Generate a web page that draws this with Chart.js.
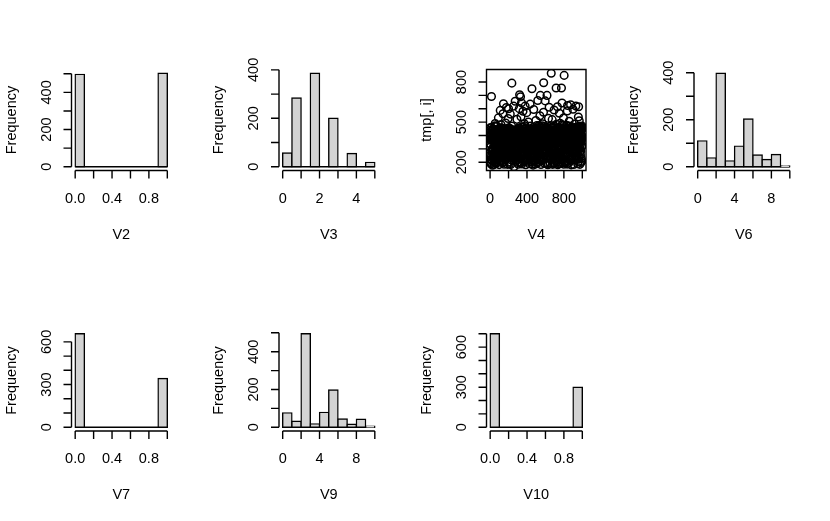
<!DOCTYPE html>
<html>
<head>
<meta charset="utf-8">
<script src="https://cdn.jsdelivr.net/npm/chart.js@4.4.1/dist/chart.umd.min.js"></script>
<style>
  html, body { margin: 0; padding: 0; background: #fff; }
  #fig { position: relative; width: 830px; height: 521px; overflow: hidden; background: #fff; }
  #fig canvas { position: absolute; }
</style>
</head>
<body>
<div id="fig"></div>
<script>
// ---- data ----
const v2Breaks = [0, 0.1, 0.2, 0.3, 0.4, 0.5, 0.6, 0.7, 0.8, 0.9, 1.0];
const v2Counts = [497, 0, 0, 0, 0, 0, 0, 0, 0, 503];

const v3Breaks = [0, 0.5, 1, 1.5, 2, 2.5, 3, 3.5, 4, 4.5, 5];
const v3Counts = [57, 284, 0, 386, 0, 200, 0, 55, 0, 18];

const v6Breaks = [0, 1, 2, 3, 4, 5, 6, 7, 8, 9, 10];
const v6Counts = [110, 38, 398, 25, 88, 203, 50, 31, 52, 3];

const v7Breaks = [0, 0.1, 0.2, 0.3, 0.4, 0.5, 0.6, 0.7, 0.8, 0.9, 1.0];
const v7Counts = [657, 0, 0, 0, 0, 0, 0, 0, 0, 343];

const v9Breaks = [0, 1, 2, 3, 4, 5, 6, 7, 8, 9, 10];
const v9Counts = [76, 32, 495, 18, 79, 197, 44, 16, 42, 5];

const v10Breaks = [0, 0.1, 0.2, 0.3, 0.4, 0.5, 0.6, 0.7, 0.8, 0.9, 1.0];
const v10Counts = [700, 0, 0, 0, 0, 0, 0, 0, 0, 300];

// V4 values in row order (index 1..1000)
const v4Values = [
  312, 387, 198, 441, 460, 254, 333, 405, 189, 376, 402, 221, 364, 418, 692, 247, 295, 459, 283, 430,
  368, 213, 384, 441, 296, 177, 422, 258, 437, 304, 375, 449, 226, 391, 286, 412, 245, 398, 363, 219,
  401, 254, 183, 376, 362, 428, 247, 419, 309, 337, 472, 193, 386, 240, 490, 356, 318, 201, 467, 374,
  335, 289, 416, 218, 362, 407, 191, 444, 251, 329, 383, 468, 206, 371, 426, 244, 387, 295, 358, 438,
  379, 224, 436, 261, 297, 410, 348, 302, 416, 532, 270, 439, 385, 292, 407, 255, 431, 182, 364, 446,
  327, 415, 251, 390, 286, 372, 436, 268, 425, 588, 214, 399, 343, 457, 205, 377, 232, 418, 480, 359,
  393, 211, 447, 365, 238, 383, 309, 456, 350, 274, 421, 338, 202, 389, 401, 246, 366, 195, 421, 563,
  441, 278, 399, 353, 637, 230, 397, 314, 262, 389, 449, 185, 411, 372, 227, 436, 358, 296, 408, 340,
  385, 220, 367, 443, 299, 378, 327, 255, 493, 410, 281, 337, 448, 268, 396, 304, 610, 431, 379, 253,
  306, 432, 267, 344, 418, 289, 419, 305, 184, 376, 454, 240, 396, 325, 263, 527, 411, 314, 448, 600,
  373, 234, 392, 458, 201, 419, 282, 447, 329, 365, 188, 437, 351, 294, 417, 370, 242, 406, 560, 378,
  426, 301, 345, 183, 449, 369, 218, 412, 387, 236, 423, 399, 262, 470, 354, 792, 431, 290, 404, 345,
  391, 248, 405, 366, 273, 429, 320, 257, 393, 396, 244, 382, 214, 438, 620, 366, 237, 409, 166, 384,
  347, 410, 272, 418, 439, 259, 392, 335, 283, 428, 301, 656, 440, 269, 383, 207, 395, 352, 427, 236,
  416, 303, 388, 249, 361, 426, 279, 389, 342, 264, 521, 433, 297, 411, 376, 408, 245, 418, 361, 198,
  369, 434, 221, 396, 342, 185, 378, 456, 309, 232, 374, 452, 316, 387, 347, 601, 450, 203, 393, 705,
  438, 281, 355, 412, 266, 404, 327, 399, 248, 690, 385, 196, 422, 359, 541, 437, 271, 430, 315, 645,
  398, 324, 463, 340, 187, 376, 417, 243, 462, 308, 389, 254, 371, 430, 302, 397, 582, 265, 428, 346,
  357, 412, 201, 384, 435, 395, 269, 422, 343, 279, 392, 306, 451, 487, 227, 360, 388, 213, 472, 620,
  414, 267, 329, 446, 303, 181, 374, 420, 339, 292, 458, 351, 206, 383, 436, 315, 571, 262, 399, 337,
  380, 441, 373, 219, 361, 425, 295, 397, 253, 444, 330, 384, 340, 408, 268, 501, 445, 310, 224, 386,
  437, 294, 416, 352, 275, 442, 189, 413, 366, 228, 405, 357, 300, 635, 419, 282, 434, 250, 393, 471,
  406, 328, 262, 419, 204, 386, 447, 375, 231, 396, 358, 213, 442, 750, 372, 187, 423, 341, 458, 265,
  350, 439, 287, 422, 302, 178, 363, 396, 444, 315, 209, 378, 595, 435, 356, 268, 400, 291, 426, 324,
  371, 215, 412, 356, 427, 239, 382, 305, 430, 261, 394, 186, 448, 347, 276, 512, 422, 301, 364, 436,
  425, 288, 343, 368, 197, 474, 320, 452, 233, 415, 365, 308, 414, 283, 440, 339, 662, 357, 195, 397,
  393, 249, 404, 327, 362, 230, 381, 473, 218, 401, 474, 345, 286, 391, 316, 459, 227, 352, 370, 548,
  332, 406, 266, 441, 700, 387, 213, 345, 454, 298, 183, 422, 369, 436, 238, 377, 404, 310, 451, 390,
  385, 217, 350, 472, 236, 417, 395, 264, 488, 346, 403, 229, 379, 361, 410, 294, 455, 333, 574, 220,
  795, 358, 293, 411, 337, 467, 244, 402, 325, 412, 276, 190, 448, 353, 297, 432, 659, 371, 318, 407,
  363, 421, 238, 382, 199, 356, 449, 291, 415, 463, 374, 235, 426, 358, 186, 405, 700, 344, 289, 377,
  418, 276, 433, 357, 240, 394, 181, 418, 366, 229, 411, 452, 528, 384, 306, 442, 270, 431, 396, 611,
  399, 336, 270, 388, 413, 283, 426, 247, 402, 193, 364, 441, 328, 417, 255, 380, 402, 363, 241, 474,
  345, 404, 866, 227, 389, 461, 354, 408, 275, 430, 343, 297, 519, 419, 268, 395, 351, 184, 412, 386,
  377, 420, 315, 463, 196, 348, 438, 283, 456, 312, 399, 254, 422, 591, 334, 471, 189, 440, 362, 227,
  430, 292, 356, 366, 444, 209, 407, 372, 401, 248, 381, 416, 338, 265, 397, 755, 390, 236, 414, 484,
  409, 347, 201, 384, 427, 260, 433, 393, 370, 615, 219, 401, 355, 181, 446, 378, 241, 428, 366, 296,
  356, 418, 274, 428, 303, 188, 451, 344, 289, 412, 567, 363, 436, 237, 382, 404, 319, 459, 492, 331,
  387, 223, 442, 366, 249, 410, 314, 397, 258, 424, 191, 376, 438, 755, 305, 452, 370, 218, 481, 643,
  440, 299, 362, 197, 436, 373, 226, 415, 448, 354, 288, 409, 362, 246, 474, 531, 330, 402, 185, 427,
  371, 434, 850, 312, 457, 295, 418, 381, 264, 440, 327, 203, 386, 349, 416, 272, 425, 344, 361, 197,
  406, 253, 420, 389, 368, 238, 476, 395, 321, 262, 473, 329, 398, 455, 186, 339, 584, 367, 443, 625,
  323, 385, 330, 449, 207, 401, 364, 426, 236, 378, 414, 192, 353, 471, 343, 294, 415, 507, 358, 311,
  394, 239, 468, 357, 221, 383, 398, 320, 456, 388, 232, 375, 630, 447, 305, 213, 442, 365, 180, 386,
  352, 412, 276, 406, 339, 461, 243, 397, 453, 219, 385, 328, 437, 269, 394, 364, 250, 405, 597, 428,
  380, 327, 449, 265, 391, 183, 417, 348, 272, 406, 436, 303, 357, 412, 336, 279, 486, 441, 296, 363,
  419, 296, 353, 420, 242, 374, 405, 285, 461, 620, 330, 411, 274, 397, 345, 458, 228, 419, 388, 246,
  401, 345, 287, 414, 358, 270, 433, 326, 189, 381, 440, 352, 297, 426, 313, 464, 539, 340, 206, 615,
  358, 414, 226, 380, 469, 243, 510, 392, 311, 435, 277, 449, 302, 184, 356, 465, 330, 431, 383, 254,
  436, 283, 419, 355, 198, 447, 372, 229, 405, 362, 466, 315, 391, 444, 377, 208, 470, 325, 453, 390
];

// ---- axis ticks and labels ----
const unitXTicks = [0, 0.2, 0.4, 0.6, 0.8, 1.0];
const unitXLabels = ["0.0", "0.4", "0.8"];
const v2YTicks = [0, 100, 200, 300, 400, 500];
const v2YLabels = ["0", "200", "400"];
const v3XTicks = [0, 1, 2, 3, 4, 5];
const v3XLabels = ["0", "2", "4"];
const v3YTicks = [0, 100, 200, 300, 400];
const v3YLabels = ["0", "200", "400"];
const v4XTicks = [0, 200, 400, 600, 800, 1000];
const v4XLabels = ["0", "400", "800"];
const v4YTicks = [200, 300, 400, 500, 600, 700, 800];
const v4YLabels = ["200", "500", "800"];
const tenXTicks = [0, 2, 4, 6, 8, 10];
const tenXLabels = ["0", "4", "8"];
const v6YTicks = [0, 100, 200, 300, 400];
const v6YLabels = ["0", "200", "400"];
const v7YTicks = [0, 100, 200, 300, 400, 500, 600];
const v7YLabels = ["0", "300", "600"];
const v9YTicks = [0, 100, 200, 300, 400, 500];
const v9YLabels = ["0", "200", "400"];
const v10YTicks = [0, 100, 200, 300, 400, 500, 600, 700];
const v10YLabels = ["0", "300", "600"];

// ---- layout (R mfrow = c(2, 4)) ----
const FIG_W = 830 / 4, FIG_H = 521 / 2;
const MAR = { left: 71.5, right: 36.5, top: 69.5, bottom: 90 };
const LW = 1.4;
const TCK = 8;
const FONT = '14.5px "Liberation Sans", Arial, sans-serif';
const BAR_FILL = "#d3d3d3";

// R extends data range by 4% on each side
const rLim = (lo, hi) => [lo - 0.04 * (hi - lo), hi + 0.04 * (hi - lo)];

const rAxes = {
  id: "rAxes",
  afterDraw(chart, args, o) {
    const { ctx, chartArea: a } = chart;
    const x = chart.scales.x, y = chart.scales.y;
    ctx.save();
    ctx.strokeStyle = "#000";
    ctx.fillStyle = "#000";
    ctx.lineWidth = LW;
    ctx.font = FONT;

    ctx.beginPath();
    if (o.box) ctx.rect(a.left, a.top, a.right - a.left, a.bottom - a.top);
    // x axis
    const xa = x.getPixelForValue(o.xTicks[0]);
    const xb = x.getPixelForValue(o.xTicks[o.xTicks.length - 1]);
    ctx.moveTo(xa, a.bottom);
    ctx.lineTo(xb, a.bottom);
    o.xTicks.forEach(v => {
      const px = x.getPixelForValue(v);
      ctx.moveTo(px, a.bottom);
      ctx.lineTo(px, a.bottom + TCK);
    });
    // y axis
    const ya = y.getPixelForValue(o.yTicks[0]);
    const yb = y.getPixelForValue(o.yTicks[o.yTicks.length - 1]);
    ctx.moveTo(a.left, ya);
    ctx.lineTo(a.left, yb);
    o.yTicks.forEach(v => {
      const py = y.getPixelForValue(v);
      ctx.moveTo(a.left, py);
      ctx.lineTo(a.left - TCK, py);
    });
    ctx.stroke();

    ctx.textAlign = "center";
    ctx.textBaseline = "alphabetic";
    o.xLabels.forEach(s => {
      ctx.fillText(s, x.getPixelForValue(parseFloat(s)), a.bottom + 32);
    });
    ctx.fillText(o.xTitle, (a.left + a.right) / 2, a.bottom + 68);

    o.yLabels.forEach(s => {
      ctx.save();
      ctx.translate(a.left - 21, y.getPixelForValue(parseFloat(s)));
      ctx.rotate(-Math.PI / 2);
      ctx.fillText(s, 0, 0);
      ctx.restore();
    });
    ctx.save();
    ctx.translate(a.left - 56, (a.top + a.bottom) / 2);
    ctx.rotate(-Math.PI / 2);
    ctx.fillText(o.yTitle, 0, 0);
    ctx.restore();

    ctx.restore();
  }
};

const histDatasets = (breaks, counts) => [
  {
    type: "bar",
    data: counts.map((c, i) => ({ x: (breaks[i] + breaks[i + 1]) / 2, y: c })),
    backgroundColor: BAR_FILL,
    borderColor: "#000",
    borderWidth: LW,
    borderSkipped: false,
    inflateAmount: LW / 2,
    barPercentage: 1,
    categoryPercentage: 1
  },
  {
    type: "line",
    data: [{ x: breaks[0], y: 0 }, { x: breaks[breaks.length - 1], y: 0 }],
    borderColor: "#000",
    borderWidth: LW,
    pointRadius: 0
  }
];

const panels = [
  { row: 0, col: 0, kind: "hist", breaks: v2Breaks, counts: v2Counts, xTicks: unitXTicks, xLabels: unitXLabels, yTicks: v2YTicks, yLabels: v2YLabels, xTitle: "V2" },
  { row: 0, col: 1, kind: "hist", breaks: v3Breaks, counts: v3Counts, xTicks: v3XTicks, xLabels: v3XLabels, yTicks: v3YTicks, yLabels: v3YLabels, xTitle: "V3" },
  { row: 0, col: 2, kind: "scatter", values: v4Values, xTicks: v4XTicks, xLabels: v4XLabels, yTicks: v4YTicks, yLabels: v4YLabels, xTitle: "V4" },
  { row: 0, col: 3, kind: "hist", breaks: v6Breaks, counts: v6Counts, xTicks: tenXTicks, xLabels: tenXLabels, yTicks: v6YTicks, yLabels: v6YLabels, xTitle: "V6" },
  { row: 1, col: 0, kind: "hist", breaks: v7Breaks, counts: v7Counts, xTicks: unitXTicks, xLabels: unitXLabels, yTicks: v7YTicks, yLabels: v7YLabels, xTitle: "V7" },
  { row: 1, col: 1, kind: "hist", breaks: v9Breaks, counts: v9Counts, xTicks: tenXTicks, xLabels: tenXLabels, yTicks: v9YTicks, yLabels: v9YLabels, xTitle: "V9" },
  { row: 1, col: 2, kind: "hist", breaks: v10Breaks, counts: v10Counts, xTicks: unitXTicks, xLabels: unitXLabels, yTicks: v10YTicks, yLabels: v10YLabels, xTitle: "V10" }
];

const fig = document.getElementById("fig");

panels.forEach(p => {
  const cl = Math.floor(p.col * FIG_W), cr = Math.floor((p.col + 1) * FIG_W);
  const ct = Math.floor(p.row * FIG_H), cb = Math.floor((p.row + 1) * FIG_H);
  const canvas = document.createElement("canvas");
  canvas.width = cr - cl;
  canvas.height = cb - ct;
  canvas.style.left = cl + "px";
  canvas.style.top = ct + "px";
  canvas.style.width = (cr - cl) + "px";
  canvas.style.height = (cb - ct) + "px";
  fig.appendChild(canvas);

  const padding = {
    left: p.col * FIG_W + MAR.left - cl,
    right: cr - ((p.col + 1) * FIG_W - MAR.right),
    top: p.row * FIG_H + MAR.top - ct,
    bottom: cb - ((p.row + 1) * FIG_H - MAR.bottom)
  };

  let datasets, xLim, yLim, type;
  if (p.kind === "hist") {
    type = "bar";
    datasets = histDatasets(p.breaks, p.counts);
    xLim = rLim(p.breaks[0], p.breaks[p.breaks.length - 1]);
    yLim = rLim(0, Math.max(...p.counts));
  } else {
    type = "scatter";
    datasets = [{
      data: p.values.map((v, i) => ({ x: i + 1, y: v })),
      pointRadius: 3.8,
      pointBorderWidth: 1.5,
      pointBackgroundColor: "rgba(0,0,0,0)",
      pointBorderColor: "#000",
      clip: 0
    }];
    xLim = rLim(1, p.values.length);
    yLim = rLim(Math.min(...p.values), Math.max(...p.values));
  }

  new Chart(canvas.getContext("2d"), {
    type: type,
    data: { datasets: datasets },
    options: {
      responsive: false,
      animation: false,
      events: [],
      layout: { padding: padding },
      scales: {
        x: { type: "linear", min: xLim[0], max: xLim[1], display: false, afterBuildTicks: s => { s.ticks = []; } },
        y: { type: "linear", min: yLim[0], max: yLim[1], display: false, afterBuildTicks: s => { s.ticks = []; } }
      },
      plugins: {
        legend: { display: false },
        tooltip: { enabled: false },
        rAxes: {
          box: p.kind === "scatter",
          xTicks: p.xTicks, xLabels: p.xLabels,
          yTicks: p.yTicks, yLabels: p.yLabels,
          xTitle: p.xTitle,
          yTitle: p.kind === "scatter" ? "tmp[, i]" : "Frequency"
        }
      }
    },
    plugins: [rAxes]
  });
});
</script>
</body>
</html>
